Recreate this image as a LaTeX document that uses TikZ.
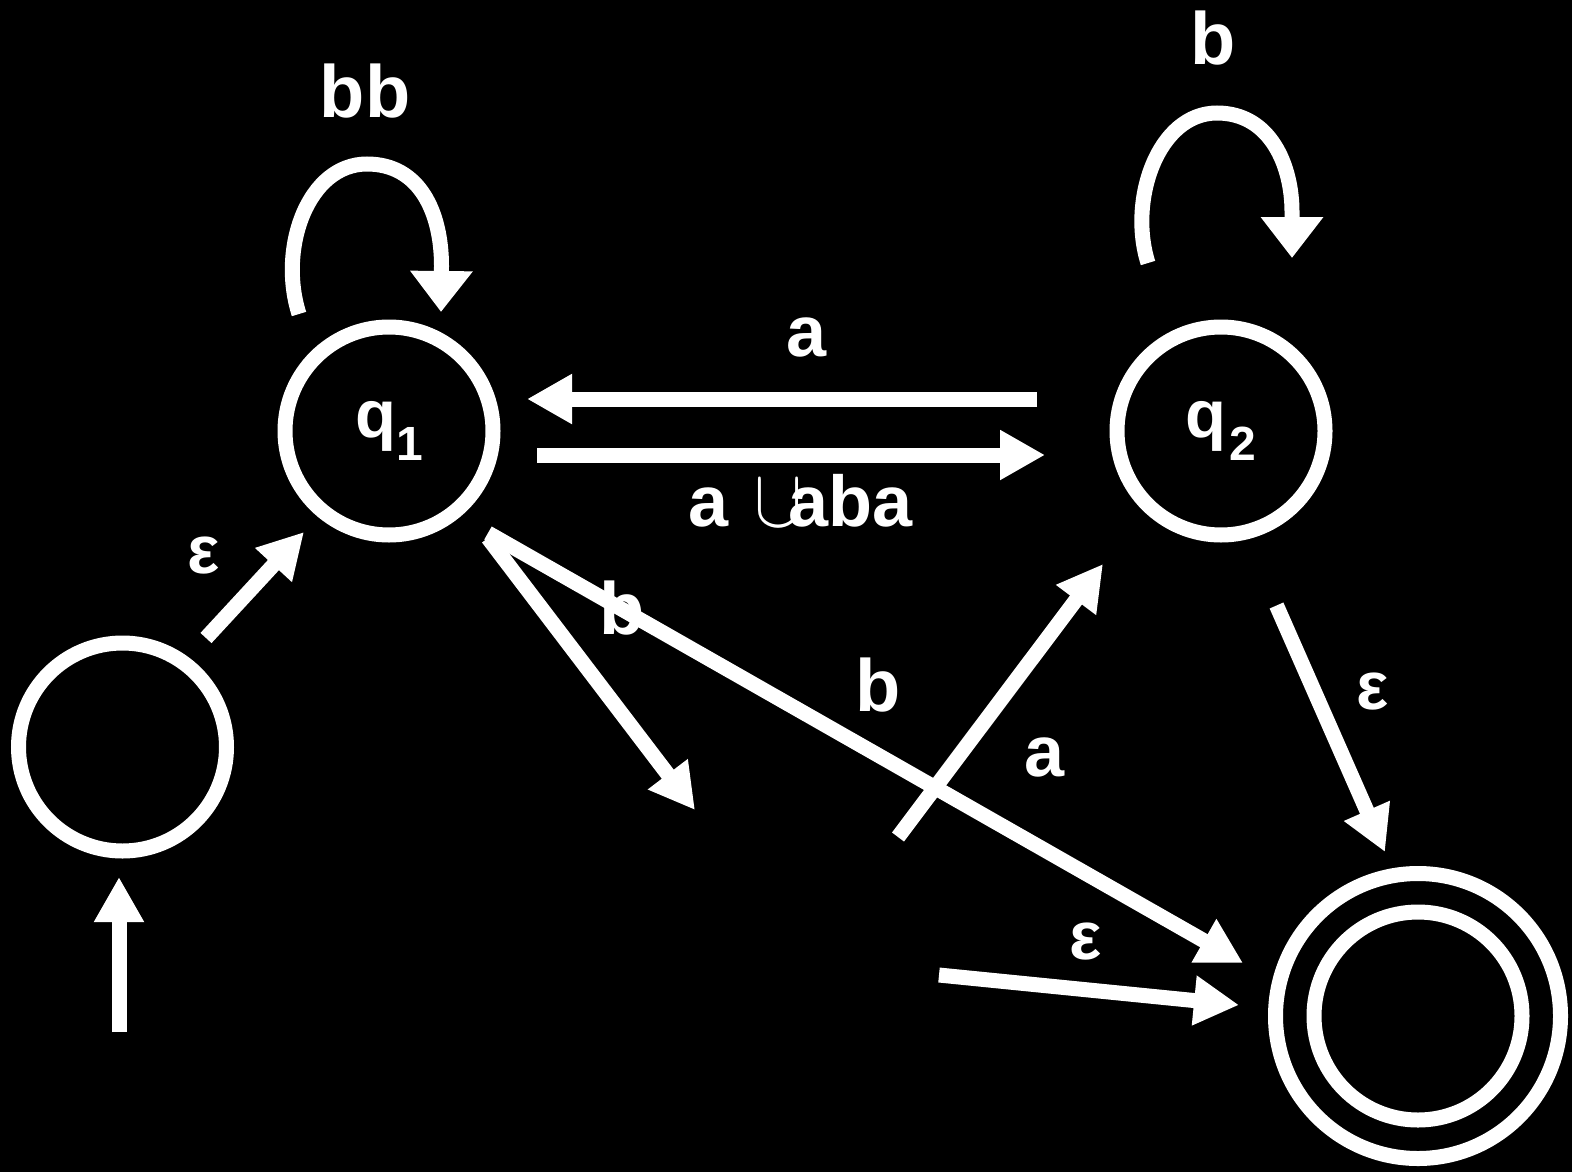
\documentclass[tikz,border=0pt]{standalone}
\usepackage{fontspec}
\setmainfont{Liberation Sans}
\usepackage{graphicx}
\usetikzlibrary{arrows.meta}
% freely scalable symbol font for the large union sign
\DeclareFontShape{OMS}{cmsy}{m}{n}{<->cmsy10}{}
\begin{document}
\begin{tikzpicture}[x=0.5pt,y=-0.5pt,
  state/.style={circle, draw=white, line width=7.5pt, minimum size=104pt,
    inner sep=0pt, text=white, font=\bfseries},
  lab/.style={text=white, inner sep=0pt, anchor=base,
    font=\fontsize{37}{37}\selectfont\bfseries},
  alab/.style={lab, font=\fontsize{36}{36}\selectfont\bfseries},
  epslab/.style={lab, font=\fontsize{34}{34}\selectfont\bfseries},
  arr/.style={draw=white, line width=7.5pt,
    -{Triangle[length=22.5pt,width=23.5pt]}},
  looparr/.style={draw=white, line width=7.5pt,
    -{Triangle[length=20.5pt,width=30pt]}}
]
% canvas
\fill[black] (0,0) rectangle (1572,1172);
\useasboundingbox (0,0) rectangle (1572,1172);

% states
\node[state] (s)  at (122.5,747) {};
\node[state] (q1) at (389,431)
  {{\fontsize{33.5}{33.5}\selectfont q}\raisebox{-11.5pt}{\fontsize{24}{24}\selectfont 1}};
\node[state] (q2) at (1221,431)
  {{\fontsize{33.5}{33.5}\selectfont q}\kern1.75pt\raisebox{-11.5pt}{\fontsize{24}{24}\selectfont 2}};
\node[state] (f)  at (1418,1016) {};
\draw[white, line width=7.5pt] (f.center) circle[radius=71.25pt];

% free ends
\coordinate (init) at (119,1032);
\coordinate (bend) at (695,810);
\coordinate (astart) at (898,837);
\coordinate (estart) at (939,975);

% start arrow
\draw[arr] (init) -- ([shift={(-3.5,130)}]s.center);
% s -> q1
\draw[arr] ([shift={(83.5,-109)}]s.center) -- ([shift={(-85,101)}]q1.center);

% self-loop on q1
\begin{scope}[shift={(q1.center)}]
  \draw[looparr] (-90,-117) .. controls (-111,-183) and (-81,-267) .. (-22,-267)
    .. controls (31,-267) and (52.5,-218) .. (52.5,-165) -- (52,-119);
\end{scope}
% self-loop on q2
\begin{scope}[shift={(q2.center)}]
  \draw[looparr] (-73,-168) .. controls (-93,-231) and (-63,-318) .. (-4,-318)
    .. controls (49,-318) and (71,-266) .. (71,-219) -- (71,-173);
\end{scope}

% q2 -> q1 and q1 -> q2
\draw[arr] ([shift={(-184,-32)}]q2.center) -- ([shift={(138,-32)}]q1.center);
\draw[arr] ([shift={(148,24)}]q1.center) -- ([shift={(-176,24)}]q2.center);

% q1 -> free end, q1 -> f
\draw[arr] ([shift={(99,107)}]q1.center) -- (bend);
\draw[arr] ([shift={(99,102)}]q1.center) -- ([shift={(-175,-53)}]f.center);

% free start -> q2
\draw[arr] (astart) -- ([shift={(-118,133)}]q2.center);
% q2 -> f
\draw[arr] ([shift={(55.5,174.5)}]q2.center) -- ([shift={(-33,-164)}]f.center);
% free start -> f
\draw[arr] (estart) -- ([shift={(-179,-11)}]f.center);

% labels
\node[lab] (lbb) at (365,118) {bb};
\node[lab] (lbq2) at (1213,65) {b};
\node[alab] (la1) at (807,356) {a};
\node[alab, anchor=base west] (lunion) at (688,526)
  {a\hspace{13pt}\scalebox{0.87}[1]{\fontsize{41.4}{41.4}\selectfont$\cup$}\kern-7pt aba};
\node[lab] (lb1) at (622,634) {b};
\node[lab] (lb2) at (878,711) {b};
\node[alab] (la2) at (1045,776) {a};
\node[epslab] (le1) at (203.5,573) {ε};
\node[epslab] (le2) at (1373,709) {ε};
\node[epslab] (le3) at (1086,959) {ε};
\end{tikzpicture}
\end{document}
